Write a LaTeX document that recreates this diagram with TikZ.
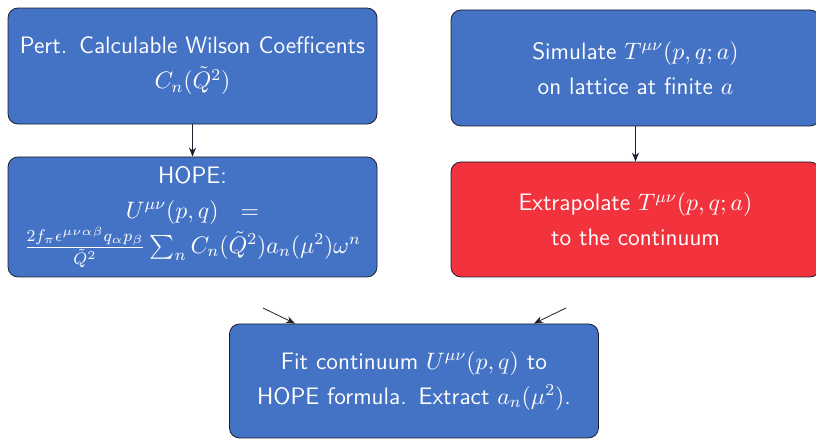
\documentclass[tikz,border=0pt]{standalone}
\usepackage{fix-cm}
\usepackage{amsmath, amssymb}
\usepackage{tikz}
\usetikzlibrary{arrows.meta, positioning}
\definecolor{boxblue}{HTML}{4472C4}
\definecolor{boxred}{HTML}{F2333D}
\definecolor{boxline}{HTML}{1A1F2B}
\hyphenpenalty=10000

\tikzset{
  stagebox/.style={draw=boxline, fill=boxblue, text=white, rounded corners=5pt,
    text width=177pt, align=center, inner xsep=3.75pt, inner ysep=3pt,
    font=\sffamily\fontsize{11.9}{17.5}\selectfont},
  flowarrow/.style={-{Stealth[length=4.5pt,width=3.5pt]}, draw=boxline}
}

\begin{document}
\begin{tikzpicture}
  \useasboundingbox (0,0) rectangle (14.340,-7.715);
  % left column: perturbative side
  \node[stagebox, minimum height=58pt] (wilson) at (3.383,-1.160)
    {Pert. Calculable Wilson Coefficents\\ $C_n(\tilde{Q}^2)$};
  \node[stagebox, minimum height=60pt] (hope) at (3.383,-3.813)
    {HOPE:\\ $U^{\mu\nu}(p,q) = \frac{2f_\pi\epsilon^{\mu\nu\alpha\beta}q_\alpha p_\beta}{\tilde{Q}^2}\sum_n C_n(\tilde{Q}^2)a_n(\mu^2)\omega^n$};
  % right column: lattice side
  \node[stagebox, minimum height=58pt] (lattice) at (11.168,-1.195)
    {Simulate $T^{\mu\nu}(p,q;a)$\\ on lattice at finite $a$};
  \node[stagebox, fill=boxred, minimum height=57.5pt] (extrap) at (11.168,-3.857)
    {Extrapolate $T^{\mu\nu}(p,q;a)$\\ to the continuum};
  % bottom: the fit
  \node[stagebox, minimum height=57pt] (fit) at (7.275,-6.695)
    {Fit continuum $U^{\mu\nu}(p,q)$ to\\ HOPE formula. Extract $a_n(\mu^2)$.};

  \draw[flowarrow] (wilson) -- (hope);
  \draw[flowarrow] (lattice) -- (extrap);
  \coordinate (hopeout) at (4.622,-5.413);
  \coordinate (extrapout) at (9.946,-5.413);
  \draw[flowarrow] (hopeout) -- ([xshift=33pt]fit.north west);
  \draw[flowarrow] (extrapout) -- ([xshift=-32.5pt]fit.north east);
\end{tikzpicture}
\end{document}
